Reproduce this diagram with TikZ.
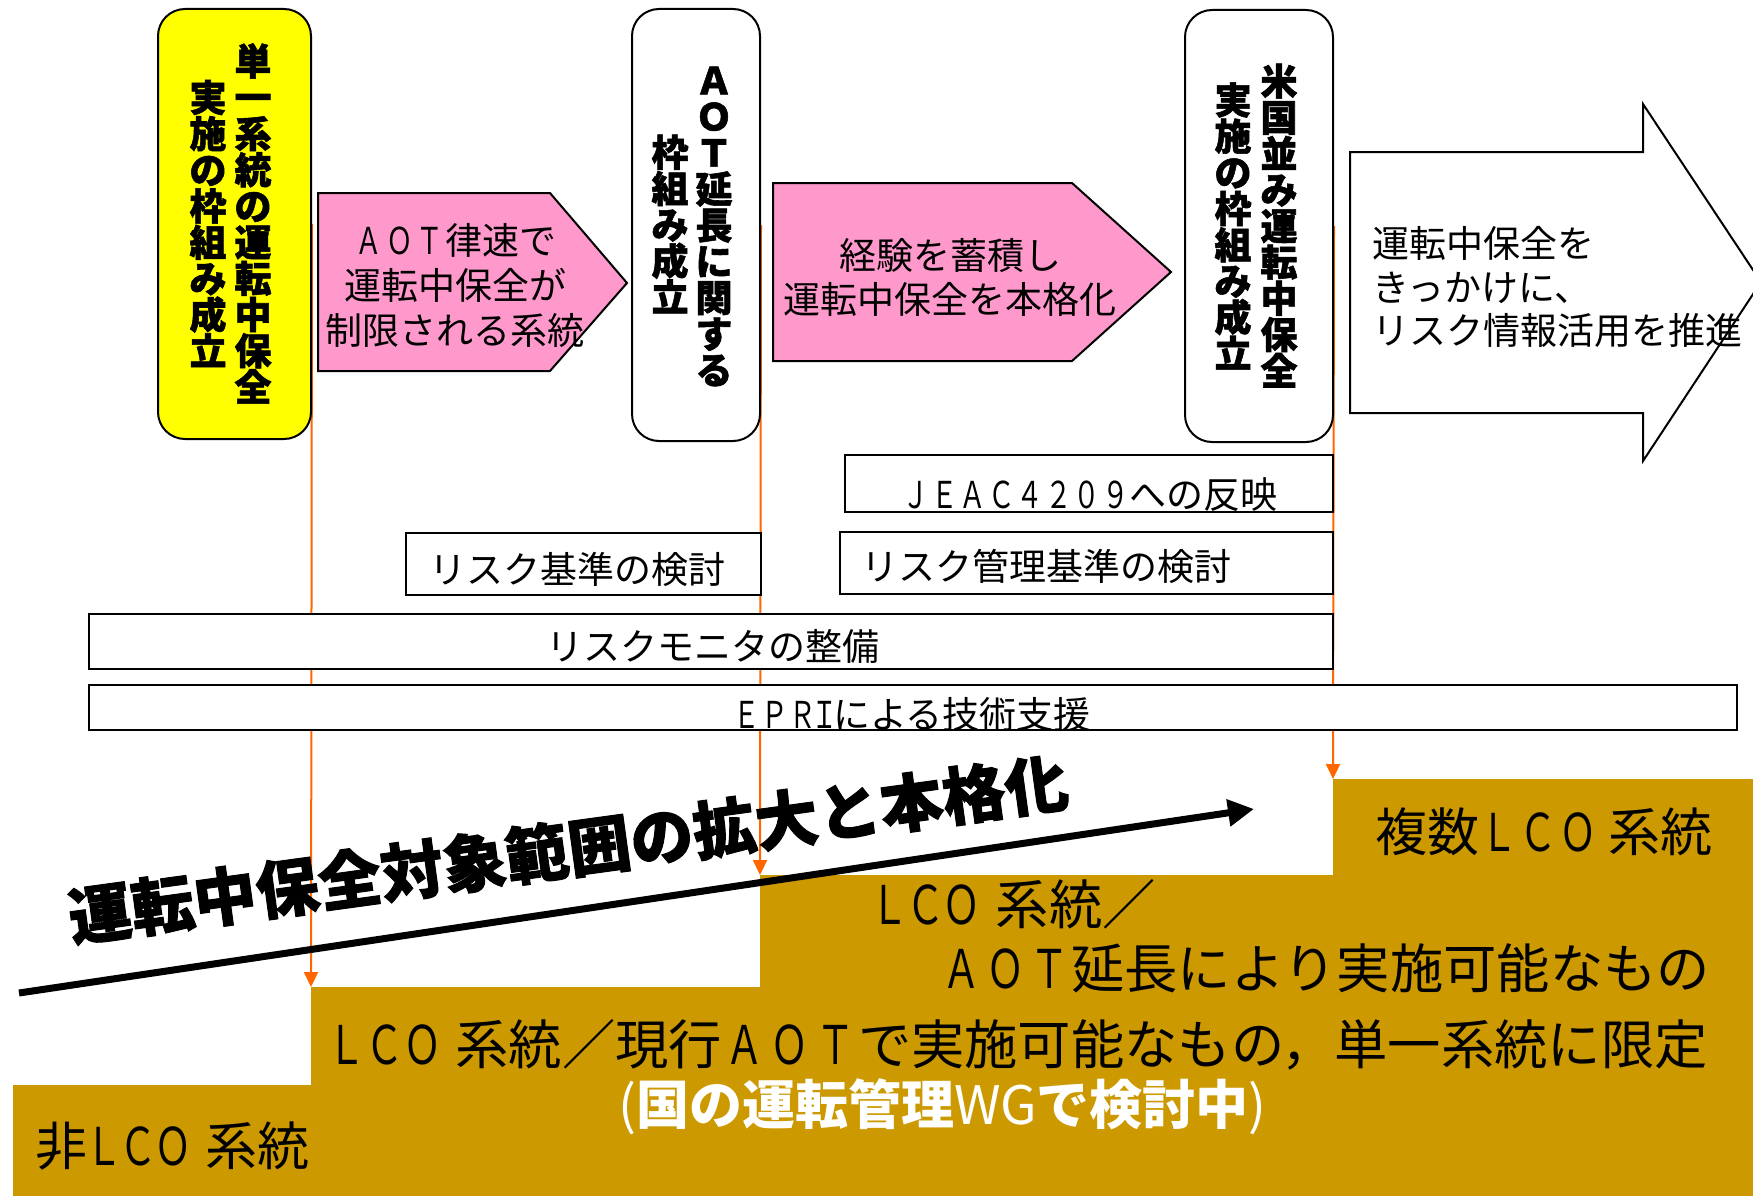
\documentclass[tikz,border=0pt]{standalone}
\usepackage{graphicx}
\usepackage{fontspec}
\setmainfont{Noto Sans CJK JP}
\newfontfamily\heavy{Noto Sans CJK JP}[BoldFeatures={FakeBold=1.5}]
\usetikzlibrary{arrows.meta}
\pgfdeclarelayer{bg}
\pgfsetlayers{bg,main}
\definecolor{gold}{HTML}{CC9900}
\definecolor{pinkf}{HTML}{FF99CC}
\definecolor{yel}{HTML}{FFFF00}
\definecolor{orng}{HTML}{FF6600}
\newcommand\lw[2][0.72em]{\makebox[#1]{\scalebox{0.72}[1]{#2}}}
\newcommand\fsz[2]{\fontsize{#1}{#2}\selectfont}
\tikzset{
  vbox/.style={draw=black, line width=2pt, rounded corners=27pt, inner sep=0pt},
  hbox/.style={draw=black, line width=2pt, fill=white, inner sep=0pt},
  vcol/.style={align=center, inner sep=0pt, font=\fsz{37}{36.2}\heavy\bfseries},
  parrow/.style={draw=black, line width=2pt, fill=pinkf},
  ptext/.style={align=center, inner sep=0pt, font=\fsz{37}{45}},
  htext/.style={inner sep=0pt, font=\fsz{37}{45}},
  btext/.style={anchor=west, inner sep=0pt, font=\fsz{53.3}{60}},
  oline/.style={draw=orng, line width=2pt, -{Triangle[length=15pt,width=14pt]}},
}
\begin{document}
\begin{tikzpicture}[x=1pt,y=-1pt]
\useasboundingbox (0,0) rectangle (1753,1196);

% vertical milestone boxes
\node[vbox, fill=yel, minimum width=153pt, minimum height=430pt] (ybox) at (234.5,224) {};
\node[vcol] (y1) at (253,223.5) {単\\一\\系\\統\\の\\運\\転\\中\\保\\全};
\node[vcol] (y2) at (208,223.5) {実\\施\\の\\枠\\組\\み\\成\\立};

\node[vbox, fill=white, minimum width=128pt, minimum height=432pt] (abox) at (696,225) {};
\node[vcol] (a1) at (714,226.5) {Ａ\\Ｏ\\Ｔ\\延\\長\\に\\関\\す\\る};
\node[vcol] (a2) at (670,224) {枠\\組\\み\\成\\立};

\node[vbox, fill=white, minimum width=148pt, minimum height=432pt] (ubox) at (1259,226) {};
\node[vcol] (u1) at (1279,225.5) {米\\国\\並\\み\\運\\転\\中\\保\\全};
\node[vcol] (u2) at (1233,226) {実\\施\\の\\枠\\組\\み\\成\\立};

% pink arrows
\draw[parrow] (318,193) -- (550,193) -- (627,283) -- (550,371) -- (318,371) -- cycle;
\node[ptext] (p1) at (455,286) {\lw[0.82em]{Ａ}\lw[0.82em]{Ｏ}\lw[0.82em]{Ｔ}律速で\\運転中保全が\\制限される系統};
\draw[parrow] (773,183) -- (1072,183) -- (1171,272) -- (1072,361) -- (773,361) -- cycle;
\node[ptext, font=\fsz{37}{44}] (p2) at (950,277) {経験を蓄積し\\運転中保全を本格化};

% big white arrow
\draw[line width=2pt, fill=white] (1350,152) -- (1643,152) -- (1643,104) -- (1761,282) -- (1643,461) -- (1643,413) -- (1350,413) -- cycle;
\node[align=left, anchor=west, inner sep=0pt, font=\fsz{37}{43.5}] (bt) at (1372,287) {運転中保全を\\きっかけに、\\リスク情報活用を推進};

% horizontal bars
\node[hbox, minimum width=488pt, minimum height=57pt] (jeac) at (1089,483.5) {};
\node[htext] (jeact) at (1090,495) {\lw[0.77em]{Ｊ}\lw[0.77em]{Ｅ}\lw[0.77em]{Ａ}\lw[0.77em]{Ｃ}\lw[0.77em]{４}\lw[0.77em]{２}\lw[0.77em]{０}\lw[0.77em]{９}への反映};
\node[hbox, minimum width=355pt, minimum height=62pt] (rk1) at (583.5,564) {};
\node[htext] (rk1t) at (577,569) {リスク基準の検討};
\node[hbox, minimum width=493pt, minimum height=62pt] (rk2) at (1086.5,563) {};
\node[htext] (rk2t) at (1046,566) {リスク管理基準の検討};
\node[hbox, minimum width=1244pt, minimum height=55pt] (mon) at (711,641.5) {};
\node[htext] (mont) at (713,646) {リスクモニタの整備};
\node[hbox, minimum width=1648pt, minimum height=45pt] (epri) at (913,707.5) {};
\node[htext] (eprit) at (912,714) {\lw[0.75em]{Ｅ}\lw[0.75em]{Ｐ}\lw[0.75em]{Ｒ}\lw[0.45em]{Ｉ}による技術支援};

% diagonal title and arrow
\node[inner sep=0pt, rotate=7.8, font=\fsz{63}{70}\heavy\bfseries] (diag) at (568,849) {運転中保全対象範囲の拡大と本格化};
\coordinate (d0) at (19,993);
\coordinate (d1) at (1254,809);
\draw[line width=7pt, -{Triangle[length=26pt,width=26pt]}] (d0) -- (d1);

% step texts
\node[btext, font=\fsz{52}{60}] (t1) at (1375,832) {複数\lw[0.76em]{Ｌ}\lw[0.76em]{Ｃ}\lw[0.76em]{Ｏ}\hspace{0.2em}系統};
\node[btext] (t2) at (871,904) {\lw[0.68em]{Ｌ}\lw[0.68em]{Ｃ}\lw[0.68em]{Ｏ}\hspace{0.3em}系統／};
\node[btext] (t3) at (940,968) {\lw[0.82em]{Ａ}\lw[0.82em]{Ｏ}\lw[0.82em]{Ｔ}延長により実施可能なもの};
\node[btext] (t4) at (327,1045) {\lw[0.72em]{Ｌ}\lw[0.72em]{Ｃ}\lw[0.72em]{Ｏ}\hspace{0.25em}系統／現行\lw[0.85em]{Ａ}\lw[0.85em]{Ｏ}\lw[0.85em]{Ｔ}で実施可能なもの，単一系統に限定};
\node[btext, text=white, font=\fsz{53}{60}\bfseries] (t5) at (618,1107) {{\mdseries(}国の運転管理{\mdseries WG}で検討中{\mdseries)}};
\node[btext, font=\fsz{52}{60}] (t6) at (35,1146) {非\lw[0.66em]{Ｌ}\lw[0.66em]{Ｃ}\lw[0.66em]{Ｏ}\hspace{0.3em}系統};

% background: steps and orange timelines
\begin{pgfonlayer}{bg}
\fill[gold] (13,1196) -- (13,1085) -- (311,1085) -- (311,987) -- (760,987) -- (760,875) -- (1333,875) -- (1333,779) -- (1753,779) -- (1753,1196) -- cycle;
\coordinate (s1) at (311,987);
\coordinate (s2) at (760,875);
\coordinate (s3) at (1333,779);
\draw[oline] (ybox.east) -- (s1);
\draw[oline] (abox.east) -- (s2);
\draw[oline] (ubox.east) -- (s3);
\end{pgfonlayer}
\end{tikzpicture}
\end{document}
